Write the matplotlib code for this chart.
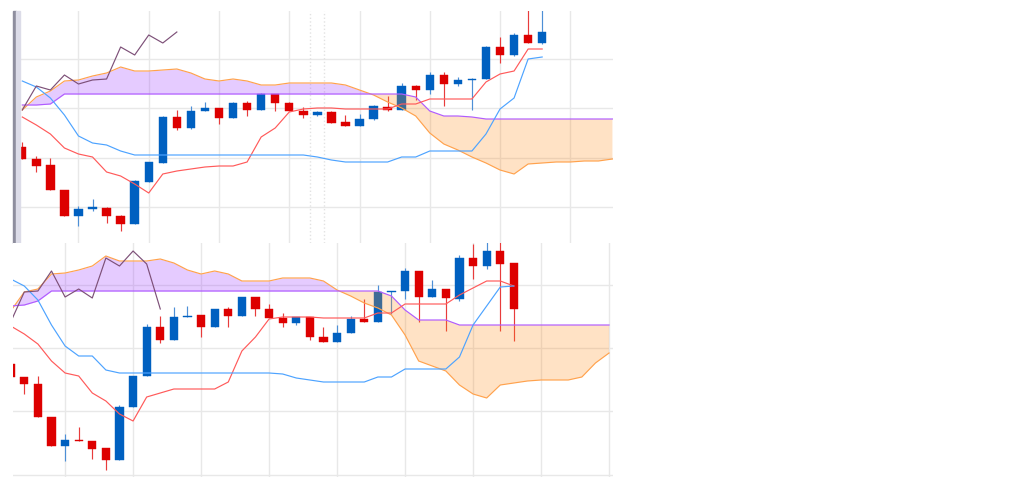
import matplotlib.pyplot as plt
import numpy as np
from matplotlib.patches import Rectangle

# upper snapshot
top_open = [141.03, 140.91, 140.85, 140.60, 140.34, 140.41, 140.42, 140.34, 140.26, 140.68,
            140.87, 141.33, 141.22, 141.39, 141.42, 141.32, 141.47, 141.40, 141.56, 141.47,
            141.39, 141.35, 141.38, 141.28, 141.24, 141.31, 141.43, 141.40, 141.64, 141.60,
            141.75, 141.66, 141.70, 141.71, 142.03, 141.95, 142.15, 142.07]
top_high = [141.08, 140.94, 140.92, 140.60, 140.44, 140.51, 140.43, 140.35, 140.70, 140.88,
            141.34, 141.40, 141.44, 141.48, 141.42, 141.48, 141.49, 141.57, 141.56, 141.48,
            141.43, 141.39, 141.39, 141.35, 141.36, 141.45, 141.54, 141.67, 141.65, 141.78,
            141.78, 141.73, 141.72, 142.04, 142.13, 142.17, 142.45, 142.45]
top_low = [140.91, 140.78, 140.60, 140.34, 140.24, 140.39, 140.27, 140.19, 140.26, 140.68,
           140.87, 141.20, 141.21, 141.39, 141.26, 141.32, 141.34, 141.40, 141.39, 141.39,
           141.32, 141.34, 141.27, 141.24, 141.24, 141.30, 141.39, 141.40, 141.50, 141.56,
           141.44, 141.64, 141.40, 141.71, 141.87, 141.94, 142.07, 142.06]
top_close = [140.91, 140.84, 140.60, 140.34, 140.41, 140.43, 140.34, 140.26, 140.69, 140.88,
             141.33, 141.22, 141.39, 141.42, 141.32, 141.47, 141.40, 141.56, 141.47, 141.39,
             141.35, 141.38, 141.27, 141.24, 141.31, 141.44, 141.40, 141.64, 141.60, 141.75,
             141.66, 141.70, 141.71, 142.03, 141.95, 142.15, 142.07, 142.18]
top_tenkan = [141.33, 141.25, 141.16, 141.02, 140.96, 140.93, 140.78, 140.74, 140.66, 140.57,
              140.76, 140.79, 140.81, 140.83, 140.84, 140.84, 140.88, 141.13, 141.22, 141.38,
              141.41, 141.42, 141.42, 141.41, 141.41, 141.41, 141.41, 141.46, 141.46, 141.51,
              141.51, 141.51, 141.51, 141.68, 141.76, 141.79, 142.01, 142.01]
top_kijun = [141.69, 141.63, 141.52, 141.35, 141.14, 141.07, 141.05, 140.99, 140.95, 140.95,
             140.95, 140.95, 140.95, 140.95, 140.95, 140.95, 140.95, 140.95, 140.95, 140.95,
             140.95, 140.93, 140.90, 140.88, 140.88, 140.88, 140.88, 140.93, 140.93, 140.99,
             140.99, 140.99, 140.99, 141.16, 141.41, 141.52, 141.91, 141.93]
top_span_a = [141.40, 141.53, 141.59, 141.69, 141.70, 141.74, 141.77, 141.83, 141.79, 141.79,
              141.80, 141.81, 141.77, 141.71, 141.69, 141.71, 141.69, 141.65, 141.65, 141.67,
              141.67, 141.67, 141.67, 141.65, 141.60, 141.55, 141.48, 141.42, 141.34, 141.17,
              141.06, 141.00, 140.93, 140.87, 140.80, 140.76, 140.86, 140.87, 140.88, 140.88,
              140.89, 140.89, 140.91]
top_span_b = [141.45, 141.45, 141.46, 141.56, 141.56, 141.56, 141.56, 141.56, 141.56, 141.56,
              141.56, 141.56, 141.56, 141.56, 141.56, 141.56, 141.56, 141.56, 141.56, 141.56,
              141.56, 141.56, 141.56, 141.56, 141.56, 141.56, 141.56, 141.56, 141.53, 141.39,
              141.34, 141.34, 141.33, 141.31, 141.31, 141.31, 141.31, 141.31, 141.31, 141.31,
              141.31, 141.31, 141.31]

# lower snapshot
bot_open = [141.36, 141.23, 141.16, 140.83, 140.54, 140.60, 140.59, 140.52, 140.40, 140.93,
            141.24, 141.73, 141.60, 141.83, 141.85, 141.73, 141.91, 141.84, 142.03, 141.91,
            141.82, 141.77, 141.83, 141.63, 141.58, 141.67, 141.81, 141.78, 142.08, 142.09,
            142.29, 142.03, 142.11, 142.01, 142.42, 142.34, 142.49, 142.37]
bot_high = [141.36, 141.23, 141.24, 140.83, 140.66, 140.73, 140.59, 140.52, 140.95, 141.24,
            141.76, 141.84, 141.93, 141.94, 141.85, 141.91, 141.93, 142.03, 142.03, 141.96,
            141.87, 141.83, 141.83, 141.73, 141.75, 141.84, 142.01, 142.15, 142.09, 142.32,
            142.29, 142.20, 142.11, 142.45, 142.56, 142.65, 142.65, 142.37]
bot_low = [141.23, 141.06, 140.83, 140.54, 140.39, 140.59, 140.41, 140.30, 140.40, 140.93,
           141.24, 141.57, 141.60, 141.83, 141.63, 141.73, 141.73, 141.84, 141.84, 141.82,
           141.73, 141.75, 141.60, 141.58, 141.58, 141.67, 141.78, 141.78, 141.86, 142.01,
           141.78, 142.03, 141.69, 141.99, 142.21, 142.31, 141.69, 141.59]
bot_close = [141.23, 141.16, 140.83, 140.54, 140.60, 140.59, 140.51, 140.40, 140.93, 141.24,
             141.73, 141.60, 141.83, 141.84, 141.73, 141.91, 141.84, 142.03, 141.91, 141.82,
             141.77, 141.83, 141.63, 141.58, 141.67, 141.81, 141.78, 142.08, 142.09, 142.29,
             142.03, 142.11, 142.02, 142.42, 142.34, 142.49, 142.36, 141.91]
bot_tenkan = [141.74, 141.66, 141.56, 141.39, 141.27, 141.24, 141.07, 140.99, 140.86, 140.79,
              141.03, 141.07, 141.11, 141.11, 141.11, 141.11, 141.18, 141.49, 141.63, 141.81,
              141.83, 141.83, 141.83, 141.82, 141.82, 141.82, 141.82, 141.87, 141.87, 141.96,
              141.96, 141.96, 141.96, 142.05, 142.12, 142.19, 142.19, 142.14]
bot_kijun = [142.21, 142.14, 142.00, 141.75, 141.54, 141.44, 141.44, 141.30, 141.27, 141.27,
             141.27, 141.27, 141.27, 141.27, 141.27, 141.27, 141.27, 141.27, 141.27, 141.27,
             141.26, 141.22, 141.20, 141.18, 141.18, 141.18, 141.18, 141.23, 141.23, 141.31,
             141.31, 141.31, 141.31, 141.43, 141.75, 141.94, 142.13, 142.14]
bot_span_a = [141.89, 142.08, 142.11, 142.26, 142.27, 142.30, 142.34, 142.44, 142.39, 142.39,
              142.39, 142.41, 142.37, 142.30, 142.26, 142.29, 142.26, 142.19, 142.19, 142.19,
              142.22, 142.22, 142.22, 142.19, 142.10, 142.04, 141.97, 141.92, 141.85, 141.65,
              141.39, 141.34, 141.29, 141.15, 141.06, 141.02, 141.15, 141.17, 141.19, 141.20,
              141.20, 141.20, 141.23, 141.37, 141.47]
bot_span_b = [141.94, 141.95, 141.99, 142.09, 142.09, 142.09, 142.09, 142.09, 142.09, 142.09,
              142.09, 142.09, 142.09, 142.09, 142.09, 142.09, 142.09, 142.09, 142.09, 142.09,
              142.09, 142.09, 142.09, 142.09, 142.09, 142.09, 142.09, 142.09, 142.04, 141.90,
              141.80, 141.80, 141.80, 141.75, 141.75, 141.75, 141.75, 141.75, 141.75, 141.75,
              141.75, 141.75, 141.75, 141.75, 141.75]

UP = '#0060c0'
DOWN = '#dd0000'
LW = 0.85


def draw_panel(ax, o, h, l, c, tenkan, kijun, span_a, span_b):
    o, h, l, c = map(np.array, (o, h, l, c))
    n = len(c)
    x = np.arange(n)
    up = c >= o
    body_col = np.where(up, UP, DOWN)
    wick_col = np.where(up, '#4d8fd6', '#e83c3c')
    ax.vlines(x, l, h, colors=wick_col, lw=LW, zorder=2)
    ax.bar(x, np.maximum(np.abs(c - o), 0.013), 0.6, bottom=np.minimum(o, c),
           color=body_col, edgecolor=body_col, lw=0.3, zorder=3)

    a = np.array(span_a)
    b = np.array(span_b)
    xs = np.arange(len(a))
    ax.fill_between(xs, a, b, where=a >= b, interpolate=True,
                    color='#9933ff', alpha=0.25, lw=0, zorder=4)
    ax.fill_between(xs, a, b, where=a < b, interpolate=True,
                    color='#ff8c1a', alpha=0.25, lw=0, zorder=4)
    ax.plot(xs, a, color='#ffa24d', lw=LW, zorder=5)
    ax.plot(xs, b, color='#b05cff', lw=LW, zorder=5)
    ax.plot(x, tenkan, color='#ff5a5a', lw=LW, zorder=6)
    ax.plot(x, kijun, color='#4da3ff', lw=LW, zorder=6)
    # lagging span: closes shifted back 26 bars
    ax.plot(x[:n - 26], c[26:], color='#7d5078', lw=LW, zorder=6)

    ax.set_axisbelow(True)
    ax.grid(True, color='#e8e8e8', lw=1)
    ax.tick_params(length=0, labelbottom=False, labelleft=False)
    for s in ax.spines.values():
        s.set_visible(False)


fig = plt.figure(figsize=(10.22, 4.78), dpi=100)
ax_top = fig.add_axes([13 / 1022, 1 - 243 / 478, 600 / 1022, 232 / 478])
ax_bot = fig.add_axes([13 / 1022, 1 / 478, 600 / 1022, 234 / 478])

draw_panel(ax_top, top_open, top_high, top_low, top_close,
           top_tenkan, top_kijun, top_span_a, top_span_b)
ax_top.set_xlim(-0.66, 42.04)
ax_top.set_ylim(140.07, 142.39)
ax_top.set_xticks(np.arange(4, 42, 5))
ax_top.set_yticks([140.43, 140.92, 141.42, 141.91])
for xv in (20.5, 21.5):
    ax_top.axvline(xv, color='#e2e2e2', ls=':', lw=1, zorder=1)
ax_top.add_patch(Rectangle((0, 0), 2.6 / 600, 1, transform=ax_top.transAxes,
                           color='#8e8e9e', zorder=10, clip_on=False))
ax_top.add_patch(Rectangle((2.6 / 600, 0), 4 / 600, 1, transform=ax_top.transAxes,
                           color='#dcdce8', zorder=10, clip_on=False))

draw_panel(ax_bot, bot_open, bot_high, bot_low, bot_close,
           bot_tenkan, bot_kijun, bot_span_a, bot_span_b)
ax_bot.set_xlim(0.17, 44.29)
ax_bot.set_ylim(140.23, 142.57)
ax_bot.set_xticks(np.arange(4, 45, 5))
ax_bot.set_yticks([140.25, 140.89, 141.52, 142.15])

fig.savefig('out.png', dpi=100)
